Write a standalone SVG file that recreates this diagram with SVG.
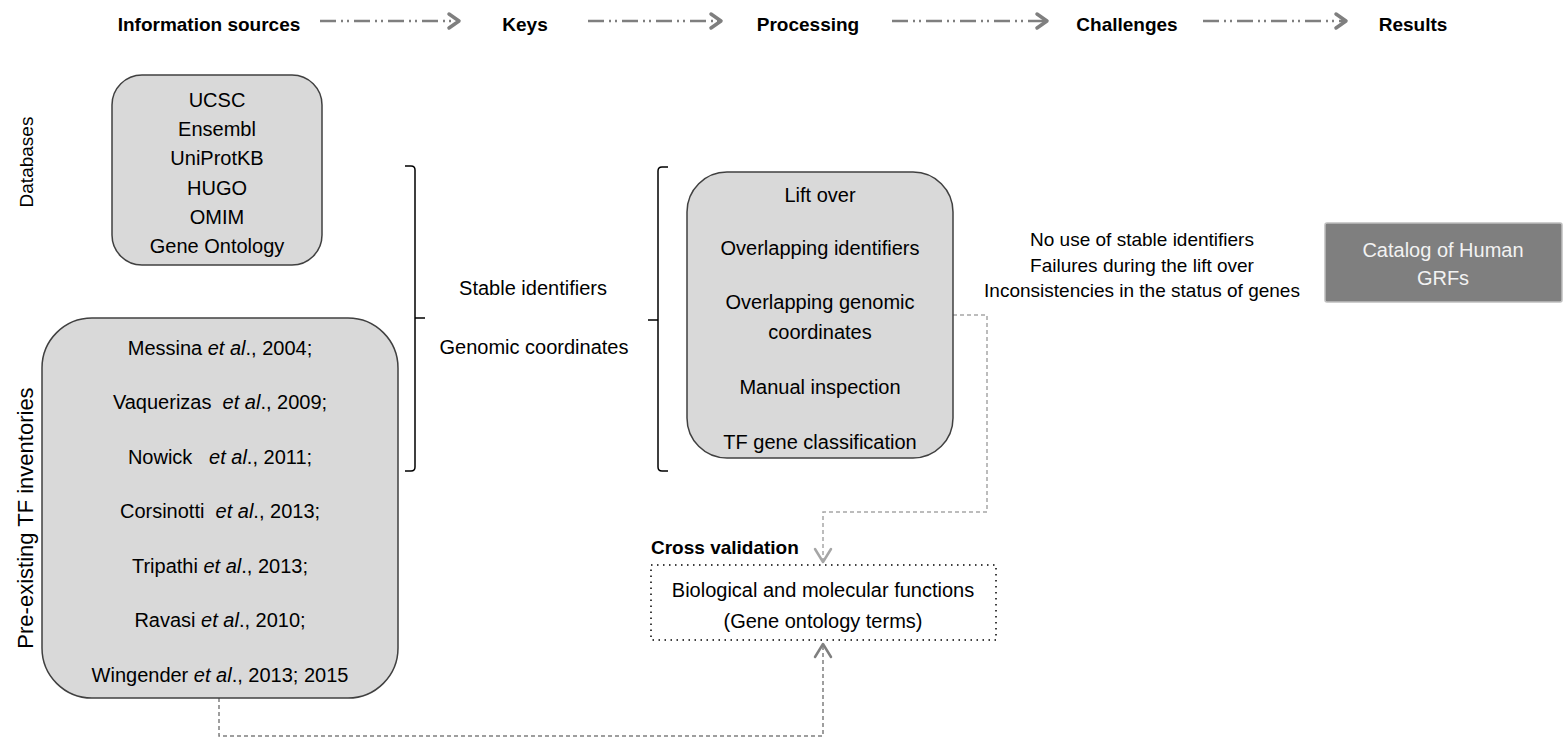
<svg xmlns="http://www.w3.org/2000/svg" width="1563" height="738" viewBox="0 0 1563 738">
<style>
text{font-family:"Liberation Sans",Arial,sans-serif;fill:#000}
.hd{font-size:19px;font-weight:bold;text-anchor:middle}
.b{font-size:20px;text-anchor:middle}
.c{font-size:19px;text-anchor:middle}
.box{fill:#d9d9d9;stroke:#404040;stroke-width:1.5}
.flow{fill:none;stroke:#7f7f7f;stroke-width:2.5;stroke-dasharray:16 5 2 4 2 5}
.head{fill:none;stroke:#7f7f7f;stroke-width:3.5;stroke-linecap:round;stroke-linejoin:round}
.brace{fill:none;stroke:#000;stroke-width:1.5}
.it{font-style:italic}
.pre{white-space:pre}
</style>
<g id="header">
<text class="hd" x="209" y="31">Information sources</text>
<text class="hd" x="525" y="31">Keys</text>
<text class="hd" x="808" y="31">Processing</text>
<text class="hd" x="1127" y="31">Challenges</text>
<text class="hd" x="1413" y="31">Results</text>
</g>
<g id="connectors">
<path class="flow" d="M320,21 H456"/><path class="head" d="M449,14 L459,21 L449,28"/>
<path class="flow" d="M588,21 H718"/><path class="head" d="M711,14 L721,21 L711,28"/>
<path class="flow" d="M892,21 H1044"/><path class="head" d="M1037,14 L1047,21 L1037,28"/>
<path class="flow" d="M1203,21 H1343"/><path class="head" d="M1336,14 L1346,21 L1336,28"/>
<path d="M953,315 H987 V512 H823 V560" fill="none" stroke="#a6a6a6" stroke-width="1.5" stroke-dasharray="4 3"/>
<path d="M815,549 L823,562 L831,549" fill="none" stroke="#a6a6a6" stroke-width="2.5" stroke-linecap="round" stroke-linejoin="round"/>
<path d="M219,698 V736 H823 V646" fill="none" stroke="#7f7f7f" stroke-width="1.5" stroke-dasharray="4 3"/>
<path d="M815,657 L823,644 L831,657" fill="none" stroke="#7f7f7f" stroke-width="2.5" stroke-linecap="round" stroke-linejoin="round"/>
<path class="brace" d="M405,166 H411 Q415,166 415,170 V318 H425 M415,318 V467 Q415,471 411,471 H405"/>
<path class="brace" d="M668,167 H662 Q658,167 658,171 V320 H648 M658,320 V467 Q658,471 662,471 H668"/>
</g>
<g id="side-labels">
<text class="c" transform="translate(33,162) rotate(-90)">Databases</text>
<text class="c" transform="translate(33,518) rotate(-90)" style="font-size:22px">Pre-existing TF inventories</text>
</g>
<g id="databases">
<rect class="box" x="112" y="75" width="210" height="190" rx="30"/>
<text class="b" x="217" y="107">UCSC</text>
<text class="b" x="217" y="136">Ensembl</text>
<text class="b" x="217" y="165">UniProtKB</text>
<text class="b" x="217" y="195">HUGO</text>
<text class="b" x="217" y="224">OMIM</text>
<text class="b" x="217" y="253">Gene Ontology</text>
</g>
<g id="inventories">
<rect class="box" x="42" y="318" width="356" height="380" rx="50"/>
<text class="b pre" x="220" y="355">Messina <tspan class="it">et al</tspan>., 2004;</text>
<text class="b pre" x="220" y="409">Vaquerizas  <tspan class="it">et al</tspan>., 2009;</text>
<text class="b pre" x="220" y="464">Nowick   <tspan class="it">et al</tspan>., 2011;</text>
<text class="b pre" x="220" y="518">Corsinotti  <tspan class="it">et al</tspan>., 2013;</text>
<text class="b pre" x="220" y="573">Tripathi <tspan class="it">et al</tspan>., 2013;</text>
<text class="b pre" x="220" y="627">Ravasi <tspan class="it">et al</tspan>., 2010;</text>
<text class="b pre" x="220" y="682">Wingender <tspan class="it">et al</tspan>., 2013; 2015</text>
</g>
<g id="keys">
<text class="b" x="533" y="295">Stable identifiers</text>
<text class="b" x="534" y="354">Genomic coordinates</text>
</g>
<g id="processing">
<rect class="box" x="687" y="172" width="266" height="286" rx="40"/>
<text class="b" x="820" y="202">Lift over</text>
<text class="b" x="820" y="255">Overlapping identifiers</text>
<text class="b" x="820" y="309">Overlapping genomic</text>
<text class="b" x="820" y="339">coordinates</text>
<text class="b" x="820" y="394">Manual inspection</text>
<text class="b" x="820" y="449">TF gene classification</text>
</g>
<g id="challenges">
<text class="c" x="1142" y="246">No use of stable identifiers</text>
<text class="c" x="1142" y="272">Failures during the lift over</text>
<text class="c" x="1142" y="297">Inconsistencies in the status of genes</text>
</g>
<g id="results">
<rect x="1325" y="223" width="237" height="79" rx="2" fill="#7f7f7f" stroke="#bfbfbf" stroke-width="1.5"/>
<text class="b" x="1443" y="257" style="fill:#f2f2f2">Catalog of Human</text>
<text class="b" x="1443" y="285" style="fill:#f2f2f2">GRFs</text>
</g>
<g id="cross-validation">
<text x="651" y="554" style="font-size:19px;font-weight:bold">Cross validation</text>
<rect x="651" y="565" width="345" height="75" fill="none" stroke="#000" stroke-width="1.5" stroke-dasharray="1.5 4.5"/>
<text class="b" x="823" y="597">Biological and molecular functions</text>
<text class="b" x="823" y="628">(Gene ontology terms)</text>
</g>
</svg>
